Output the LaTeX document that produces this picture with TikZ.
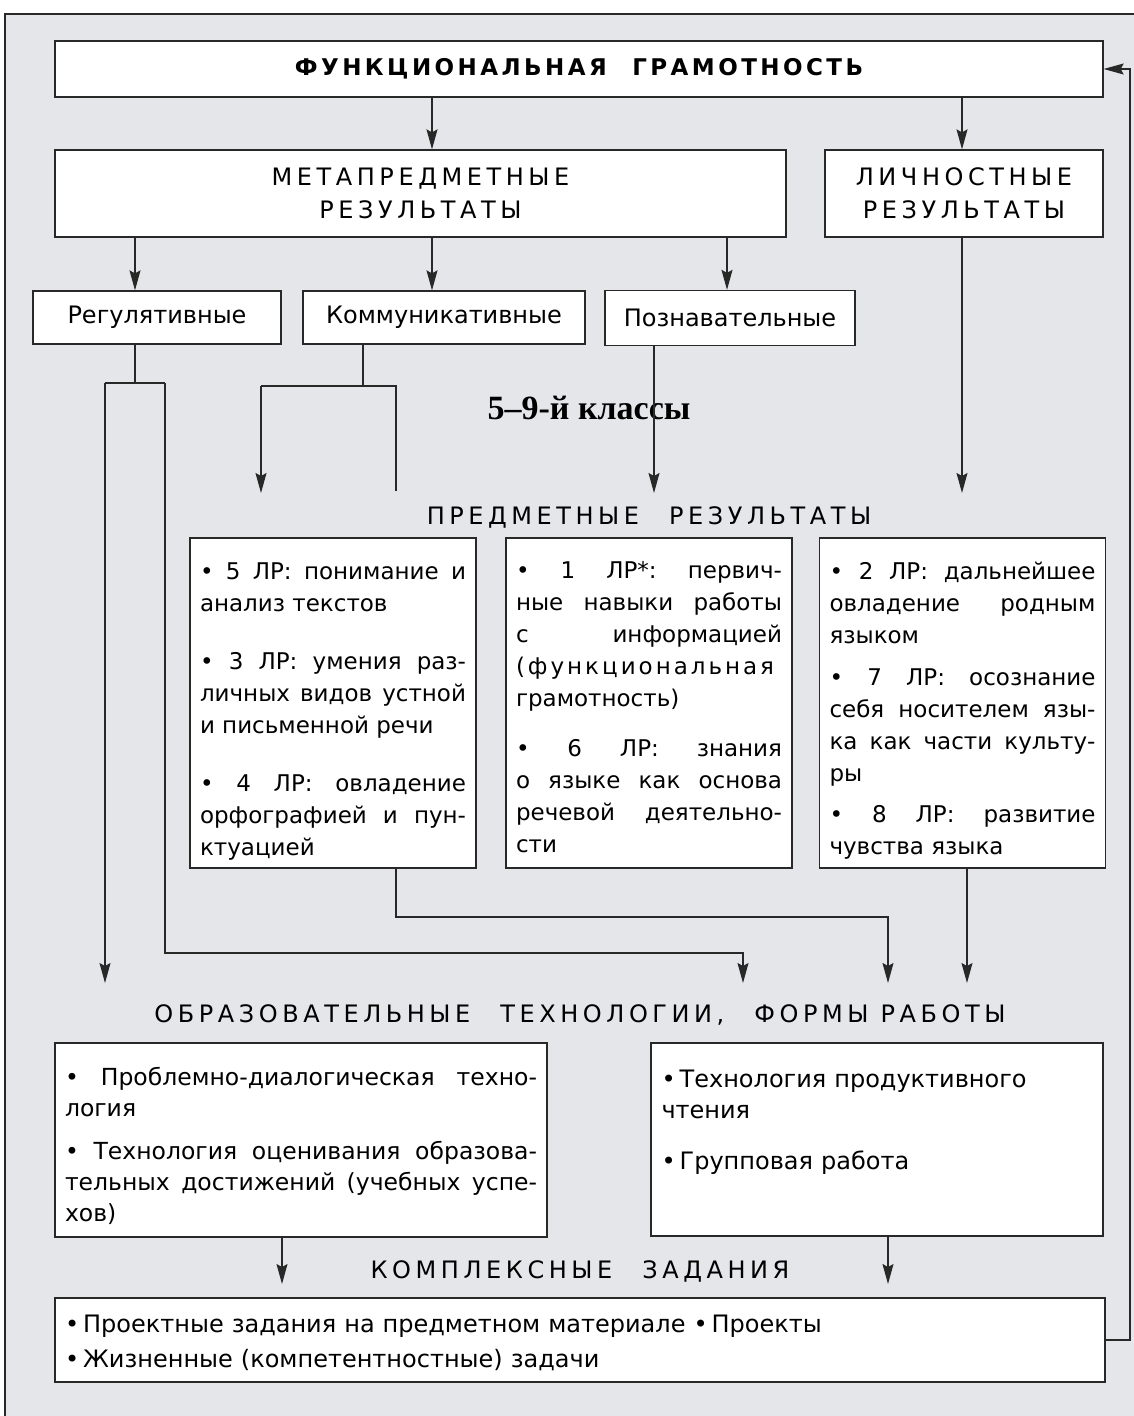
\documentclass[tikz,border=0pt]{standalone}
\usepackage{fontspec}
\setmainfont{DejaVu Sans}
\newfontfamily\capsfont[LetterSpace=19]{DejaVu Sans}
\newfontfamily\titlefont[LetterSpace=15]{DejaVu Sans}
\newfontfamily\spreadfont[LetterSpace=13]{DejaVu Sans}
\newfontfamily\classfont{Liberation Serif}
\usetikzlibrary{arrows.meta, positioning}
\definecolor{bg}{RGB}{229,230,234}
\definecolor{ln}{RGB}{40,40,40}
% one justified line
\newcommand{\jl}[1]{\makebox[\linewidth][s]{\spaceskip=0pt\xspaceskip=0pt #1}\\}
% extra room above the first line
\newcommand{\lift}[1]{\rule{0pt}{#1}}
\newcommand{\gap}{\hspace{30pt}}
\frenchspacing

\begin{document}
\begin{tikzpicture}[x=1pt, y=-1pt, color=ln,
    >={Stealth[length=20pt, width=11pt, inset=3pt]},
    every node/.style={text=black},
    every path/.style={line width=1.2pt},
    box/.style={draw=ln, fill=white, line width=1.3pt, inner sep=0pt},
    head/.style={font={\capsfont\fontsize{24}{33}\selectfont}},
    lrbox/.style={box, text width=266pt, inner xsep=10pt, minimum height=330pt,
        align=justify, font={\fontsize{23}{32}\selectfont}}]
    \useasboundingbox (0,0) rectangle (1134,1416);
    \fill[bg] (5,14) rectangle (1134,1416);
    \draw (5,1416) -- (5,14) -- (1134,14);

    % top
    \node (fg) [box, minimum width=1048pt, minimum height=56pt] at (579,69)
        {\titlefont\bfseries\fontsize{23}{28}\selectfont ФУНКЦИОНАЛЬНАЯ\hspace{14pt} ГРАМОТНОСТЬ};
    \node (meta) [box, head, align=center, minimum width=731pt, minimum height=87pt] at (420.5,193.5)
        {МЕТАПРЕДМЕТНЫЕ\\РЕЗУЛЬТАТЫ};
    \node (pers) [box, head, align=center, minimum width=278pt, minimum height=87pt] at (964,193.5)
        {ЛИЧНОСТНЫЕ\\РЕЗУЛЬТАТЫ};
    \node (reg) [box, font=\fontsize{24}{28}\selectfont, minimum width=248pt, minimum height=53pt] at (157,317.5) {Регулятивные};
    \node (komm) [box, font=\fontsize{24}{28}\selectfont, minimum width=282pt, minimum height=53pt] at (444,317.5) {Коммуникативные};
    \node (pozn) [box, font=\fontsize{24}{28}\selectfont, minimum width=250pt, minimum height=55pt] at (730,318) {Познавательные};

    \node (klass) at (589,408) {\classfont\bfseries\fontsize{34}{40}\selectfont 5–9-й классы};
    \node (pred) [head] at (649,517) {ПРЕДМЕТНЫЕ\gap РЕЗУЛЬТАТЫ};

    % subject results
    \node (lr1) [lrbox] at (333,703) {%
        \jl{\lift{34pt}• 5 ЛР: понимание и}
        анализ текстов\\[26pt]
        \jl{• 3 ЛР: умения раз-}
        \jl{личных видов устной}
        и письменной речи\\[26pt]
        \jl{• 4 ЛР: овладение}
        \jl{орфографией и пун-}
        ктуацией};
    \node (lr2) [lrbox] at (649,703) {%
        \jl{\lift{26pt}• 1 ЛР*: первич-}
        \jl{ные навыки работы}
        \jl{с информацией}
        {\spreadfont (функциональная}\\
        грамотность)\\[18pt]
        \jl{• 6 ЛР: знания}
        \jl{о языке как основа}
        \jl{речевой деятельно-}
        сти};
    \node (lr3) [lrbox] at (962.5,703) {%
        \jl{\lift{32pt}• 2 ЛР: дальнейшее}
        \jl{овладение родным}
        языком\\[10pt]
        \jl{• 7 ЛР: осознание}
        \jl{себя носителем язы-}
        \jl{ка как части культу-}
        ры\\[9pt]
        \jl{• 8 ЛР: развитие}
        чувства языка};

    % technologies
    \node (tech) [head] at (580,1015) {ОБРАЗОВАТЕЛЬНЫЕ\gap ТЕХНОЛОГИИ,\gap ФОРМЫ РАБОТЫ};
    \node (tl) [box, text width=472pt, inner xsep=10pt, minimum height=194pt, align=justify,
        font=\fontsize{23.5}{31}\selectfont] at (301,1140) {%
        \jl{\lift{31pt}• Проблемно-диалогическая техно-}
        логия\\[12pt]
        \jl{• Технология оценивания образова-}
        \jl{тельных достижений (учебных успе-}
        хов)};
    \node (tr) [box, text width=431pt, inner xsep=10.5pt, minimum height=193pt, align=left,
        font=\fontsize{24}{31}\selectfont] at (877,1139.5) {%
        •\,Технология продуктивного\\
        чтения\\[20pt]
        •\,Групповая работа\par\rule{0pt}{34pt}};

    % complex tasks
    \node (kompl) [head] at (580,1271) {КОМПЛЕКСНЫЕ\gap ЗАДАНИЯ};
    \node (kz) [box, text width=1030pt, inner xsep=10pt, minimum height=84pt, align=left,
        font=\fontsize{24}{35}\selectfont] at (580,1340) {%
        \lift{24pt}•\,Проектные задания на предметном материале •\,Проекты\\
        •\,Жизненные (компетентностные) задачи};

    % columns and bends
    \coordinate (ca) at (432,0);
    \coordinate (cb) at (135,0);
    \coordinate (cc) at (727,0);
    \coordinate (cp) at (962,0);
    \coordinate (cz) at (654,0);
    \coordinate (c8) at (967,0);
    \coordinate (ct) at (282,0);
    \coordinate (fb) at (1130,0);
    \coordinate (rl) at (105,383);
    \coordinate (rs) at (135,383);
    \coordinate (rr) at (165,383);
    \coordinate (kl) at (261,386);
    \coordinate (ks) at (363,386);
    \coordinate (kr) at (396,386);
    \coordinate (kend) at (396,491);
    \coordinate (rbend) at (165,953);
    \coordinate (ot1) at (743,953);
    \coordinate (lbend) at (396,917);
    \coordinate (ot2) at (888,917);
    \coordinate (pt) at (0,493);
    \coordinate (bt) at (0,983);
    \coordinate (kt) at (0,1284);

    \draw [->] (fg.south -| ca) -- (meta.north -| ca);
    \draw [->] (fg.south -| cp) -- (pers.north -| cp);
    \draw [->] (meta.south -| cb) -- (reg.north -| cb);
    \draw [->] (meta.south -| ca) -- (komm.north -| ca);
    \draw [->] (meta.south -| cc) -- (pozn.north -| cc);
    \draw (reg.south -| rs) -- (rs);
    \draw (rl) -- (rr);
    \draw [->] (rl) -- (rl |- bt);
    \draw [->] (rr) -- (rbend) -- (ot1) -- (ot1 |- bt);
    \draw (komm.south -| ks) -- (ks);
    \draw (kl) -- (kr) -- (kend);
    \draw [->] (kl) -- (kl |- pt);
    \draw [->] (pozn.south -| cz) -- (cz |- pt);
    \draw [->] (pers.south -| cp) -- (cp |- pt);
    \draw [->] (lr1.south -| lbend) -- (lbend) -- (ot2) -- (ot2 |- bt);
    \draw [->] (lr3.south -| c8) -- (c8 |- bt);
    \draw [->] (tl.south -| ct) -- (ct |- kt);
    \draw [->] (tr.south -| ot2) -- (ot2 |- kt);
    \draw [->] (kz.east) -- (kz.east -| fb) -- (fg.east -| fb) -- (fg.east);
\end{tikzpicture}
\end{document}
